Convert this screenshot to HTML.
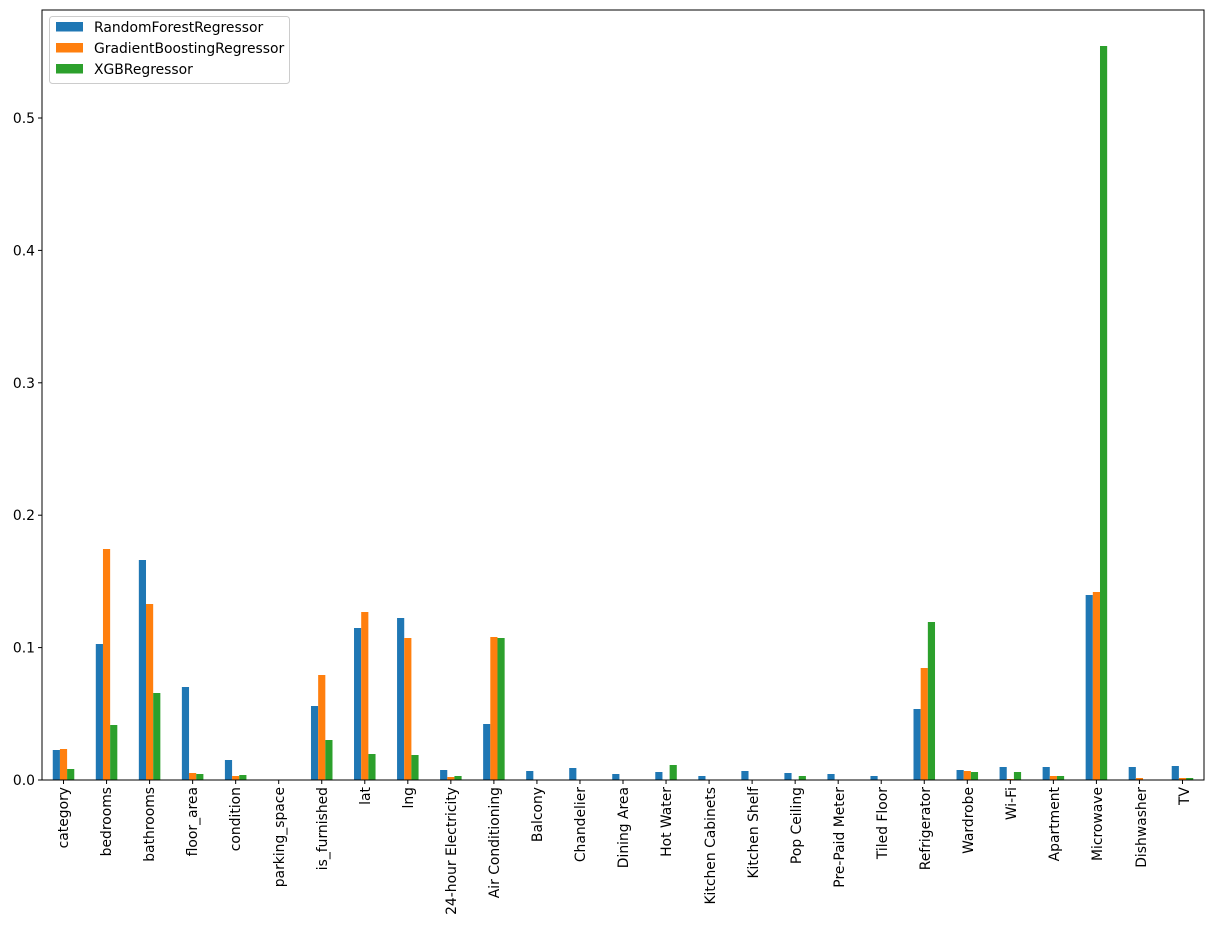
<!DOCTYPE html>
<html><head><meta charset="utf-8"><style>
body{margin:0;background:#fff;}
svg{display:block;font-family:"DejaVu Sans","Liberation Sans",sans-serif;}
</style></head><body>
<svg id="s" width="1214" height="927" xmlns="http://www.w3.org/2000/svg">
<rect width="1214" height="927" fill="#fff"/>
<g id="bars"></g>
<rect x="42" y="10" width="1162" height="770" fill="none" stroke="#000" stroke-width="1"/>
<g font-size="13.9" text-anchor="end" fill="#000">
<line x1="38" y1="780" x2="42" y2="780" stroke="#000"/><text x="35" y="785">0.0</text>
<line x1="38" y1="647.6" x2="42" y2="647.6" stroke="#000"/><text x="35" y="652.6">0.1</text>
<line x1="38" y1="515.2" x2="42" y2="515.2" stroke="#000"/><text x="35" y="520.2">0.2</text>
<line x1="38" y1="382.8" x2="42" y2="382.8" stroke="#000"/><text x="35" y="387.8">0.3</text>
<line x1="38" y1="250.4" x2="42" y2="250.4" stroke="#000"/><text x="35" y="255.4">0.4</text>
<line x1="38" y1="118" x2="42" y2="118" stroke="#000"/><text x="35" y="123">0.5</text>
</g>
<g id="xl" font-size="13.9" text-anchor="end" fill="#000">
<text transform="translate(68,787) rotate(-90)">category</text>
<text transform="translate(111,787) rotate(-90)">bedrooms</text>
<text transform="translate(154,787) rotate(-90)">bathrooms</text>
<text transform="translate(197,787) rotate(-90)">floor_area</text>
<text transform="translate(240,787) rotate(-90)">condition</text>
<text transform="translate(284,787) rotate(-90)">parking_space</text>
<text transform="translate(327,787) rotate(-90)">is_furnished</text>
<text transform="translate(370,787) rotate(-90)">lat</text>
<text transform="translate(413,787) rotate(-90)">lng</text>
<text transform="translate(456,787) rotate(-90)">24-hour Electricity</text>
<text transform="translate(499,787) rotate(-90)">Air Conditioning</text>
<text transform="translate(542,787) rotate(-90)">Balcony</text>
<text transform="translate(585,787) rotate(-90)">Chandelier</text>
<text transform="translate(628,787) rotate(-90)">Dining Area</text>
<text transform="translate(671,787) rotate(-90)">Hot Water</text>
<text transform="translate(715,787) rotate(-90)">Kitchen Cabinets</text>
<text transform="translate(758,787) rotate(-90)">Kitchen Shelf</text>
<text transform="translate(801,787) rotate(-90)">Pop Ceiling</text>
<text transform="translate(844,787) rotate(-90)">Pre-Paid Meter</text>
<text transform="translate(887,787) rotate(-90)">Tiled Floor</text>
<text transform="translate(930,787) rotate(-90)">Refrigerator</text>
<text transform="translate(973,787) rotate(-90)">Wardrobe</text>
<text transform="translate(1016,787) rotate(-90)">Wi-Fi</text>
<text transform="translate(1059,787) rotate(-90)">Apartment</text>
<text transform="translate(1102,787) rotate(-90)">Microwave</text>
<text transform="translate(1146,787) rotate(-90)">Dishwasher</text>
<text transform="translate(1189,787) rotate(-90)">TV</text>
</g>
<g id="ticks"></g>
<rect x="49.5" y="16.5" width="240" height="67" rx="3" fill="#fff" fill-opacity="0.8" stroke="#ccc"/>
<rect x="56" y="22" width="27" height="9.5" fill="#1f77b4"/>
<rect x="56" y="43" width="27" height="9.5" fill="#ff7f0e"/>
<rect x="56" y="64" width="27" height="9.5" fill="#2ca02c"/>
<g font-size="13.9" fill="#000">
<text x="94" y="32">RandomForestRegressor</text>
<text x="94" y="53">GradientBoostingRegressor</text>
<text x="94" y="74">XGBRegressor</text>
</g>
</svg>
<script>
var d=[[750,749,769],[644,549,725],[560,604,693],[687,773,774],[760,776,775],[780,780,780],[706,675,740],[628,612,754],[618,638,755],[770,777,776],[724,637,638],[771,780,780],[768,780,780],[774,780,780],[772,780,765],[776,780,780],[771,780,780],[773,780,776],[774,780,780],[776,780,780],[709,668,622],[770,771,772],[767,779,772],[767,776,776],[595,592,46],[767,778,780],[766,778,778]];
var c=["#1f77b4","#ff7f0e","#2ca02c"],w=1162/27,bw=w/6,h="",t="";
d.forEach(function(r,i){var cx=42+w*(i+0.5);
t+='<line x1="'+cx+'" y1="780" x2="'+cx+'" y2="784" stroke="#000"/>';
r.forEach(function(y,j){var x=cx-1.5*bw+j*bw;h+='<rect x="'+x+'" y="'+y+'" width="'+bw+'" height="'+(780-y)+'" fill="'+c[j]+'"/>';});});
document.getElementById("bars").innerHTML=h;document.getElementById("ticks").innerHTML=t;
</script>
</body></html>
